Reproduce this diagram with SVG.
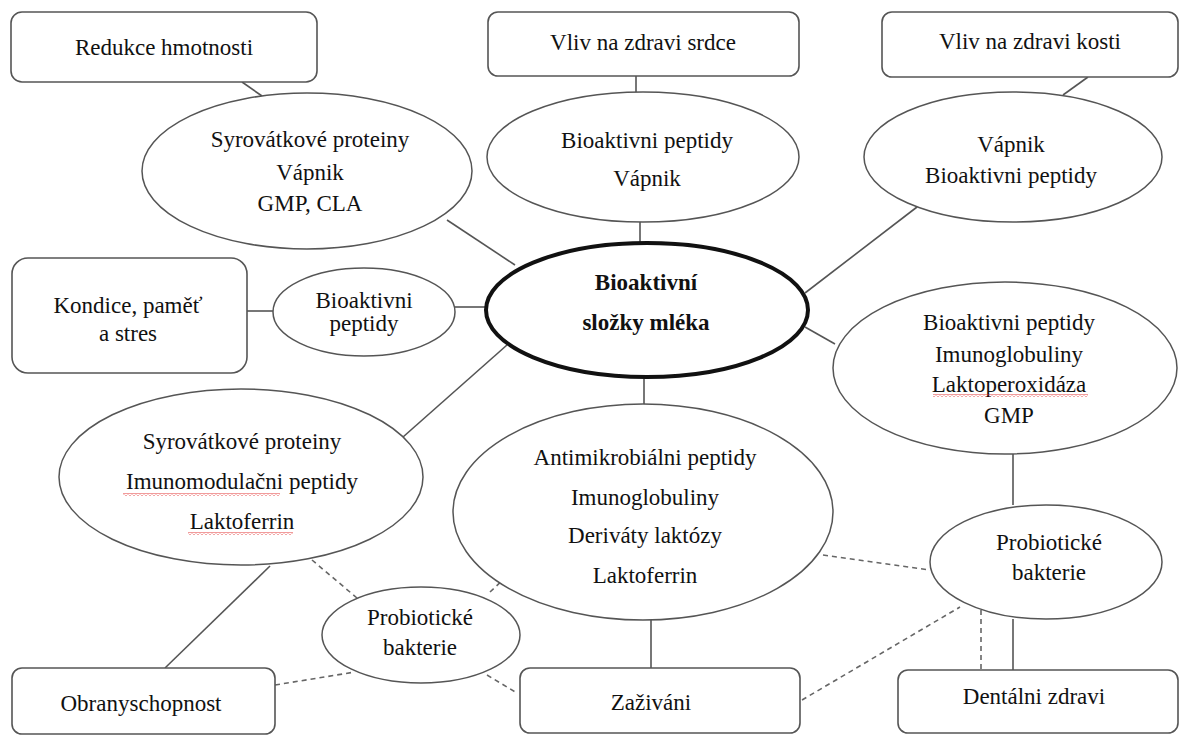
<svg xmlns="http://www.w3.org/2000/svg" width="1181" height="736" viewBox="0 0 1181 736">
<style>
.box{fill:#fff;stroke:#555;stroke-width:1.6}
.ell{fill:#fff;stroke:#555;stroke-width:1.5}
.main{fill:#fff;stroke:#111;stroke-width:4}
.ln{stroke:#555;stroke-width:1.6;fill:none}
.ds{stroke:#666;stroke-width:1.6;fill:none;stroke-dasharray:5 4}
text{font-family:"Liberation Serif","Times New Roman",serif;font-size:23px;fill:#111;text-anchor:middle}
.b{font-weight:bold}
</style>
<defs>
<pattern id="sq" width="4" height="3" patternUnits="userSpaceOnUse">
<path d="M0,2.5 L2,0.5 L4,2.5" stroke="#e02020" stroke-width="0.9" fill="none"/>
</pattern>
</defs>
<rect width="1181" height="736" fill="#fff"/>
<g id="connectors">
<line class="ln" x1="242" y1="82" x2="262" y2="96"/>
<line class="ln" x1="636" y1="76" x2="636" y2="93"/>
<line class="ln" x1="1088" y1="77" x2="1063" y2="95"/>
<line class="ln" x1="447" y1="220" x2="515" y2="265"/>
<line class="ln" x1="640" y1="222" x2="640" y2="243"/>
<line class="ln" x1="917" y1="207" x2="805" y2="293"/>
<line class="ln" x1="247" y1="311" x2="273" y2="311"/>
<line class="ln" x1="455" y1="307" x2="486" y2="307"/>
<line class="ln" x1="805" y1="327" x2="835" y2="344"/>
<line class="ln" x1="403" y1="437" x2="507" y2="345"/>
<line class="ln" x1="644" y1="377" x2="644" y2="405"/>
<line class="ln" x1="1013" y1="454" x2="1013" y2="505"/>
<line class="ln" x1="270" y1="566" x2="165" y2="668"/>
<line class="ln" x1="651" y1="620" x2="651" y2="668"/>
<line class="ln" x1="1013" y1="619" x2="1013" y2="670"/>
<line class="ds" x1="312" y1="560" x2="357" y2="598"/>
<line class="ds" x1="275" y1="685" x2="355" y2="672"/>
<line class="ds" x1="490" y1="592" x2="505" y2="578"/>
<line class="ds" x1="487" y1="675" x2="517" y2="693"/>
<line class="ds" x1="823" y1="555" x2="930" y2="570"/>
<line class="ds" x1="802" y1="700" x2="960" y2="607"/>
<line class="ds" x1="981" y1="610" x2="981" y2="670"/>
</g>
<g id="box-redukce">
<rect class="box" x="11" y="12" width="306" height="70" rx="11"/>
<text x="164" y="55">Redukce hmotnosti</text>
</g>
<g id="box-srdce">
<rect class="box" x="488" y="12" width="311" height="64" rx="10"/>
<text x="643" y="50">Vliv na zdravi srdce</text>
</g>
<g id="box-kosti">
<rect class="box" x="882" y="12" width="296" height="65" rx="10"/>
<text x="1030" y="49">Vliv na zdravi kosti</text>
</g>
<g id="box-kondice">
<rect class="box" x="12" y="258" width="235" height="115" rx="16"/>
<text x="128" y="313">Kondice, paměť</text>
<text x="128" y="341">a stres</text>
</g>
<g id="box-obrany">
<rect class="box" x="12" y="668" width="263" height="66" rx="10"/>
<text x="141" y="711">Obranyschopnost</text>
</g>
<g id="box-zazivani">
<rect class="box" x="520" y="668" width="280" height="65" rx="10"/>
<text x="651" y="710">Zaživáni</text>
</g>
<g id="box-dental">
<rect class="box" x="898" y="670" width="280" height="63" rx="10"/>
<text x="1034" y="704">Dentálni zdravi</text>
</g>
<g id="ell-redukce">
<ellipse class="ell" cx="307" cy="171" rx="165" ry="78"/>
<text x="310" y="147">Syrovátkové proteiny</text>
<text x="310" y="180">Vápnik</text>
<text x="310" y="211">GMP, CLA</text>
</g>
<g id="ell-srdce">
<ellipse class="ell" cx="643" cy="157" rx="156" ry="65"/>
<text x="647" y="148">Bioaktivni peptidy</text>
<text x="647" y="186">Vápnik</text>
</g>
<g id="ell-kosti">
<ellipse class="ell" cx="1013" cy="157" rx="149" ry="65"/>
<text x="1011" y="152">Vápnik</text>
<text x="1011" y="183">Bioaktivni peptidy</text>
</g>
<g id="ell-kondice">
<ellipse class="ell" cx="364" cy="312" rx="91" ry="44"/>
<text x="364" y="308">Bioaktivni</text>
<text x="364" y="331">peptidy</text>
</g>
<g id="center">
<ellipse class="main" cx="647" cy="310" rx="161" ry="67"/>
<text class="b" x="646" y="290">Bioaktivní</text>
<text class="b" x="646" y="330">složky mléka</text>
</g>
<g id="ell-imun">
<ellipse class="ell" cx="1005" cy="368" rx="172" ry="86"/>
<text x="1009" y="330">Bioaktivni peptidy</text>
<text x="1009" y="362">Imunoglobuliny</text>
<text x="1009" y="392">Laktoperoxidáza</text>
<rect x="933" y="394" width="155" height="3" fill="url(#sq)"/>
<text x="1009" y="423">GMP</text>
</g>
<g id="ell-obrany">
<ellipse class="ell" cx="241" cy="477" rx="182" ry="88"/>
<text x="242" y="449">Syrovátkové proteiny</text>
<text x="242" y="489">Imunomodulačni peptidy</text>
<rect x="123" y="493" width="157" height="3" fill="url(#sq)"/>
<text x="242" y="529">Laktoferrin</text>
<rect x="188" y="532" width="105" height="3" fill="url(#sq)"/>
</g>
<g id="ell-zazivani">
<ellipse class="ell" cx="643" cy="512" rx="190" ry="108"/>
<text x="645" y="465">Antimikrobiálni peptidy</text>
<text x="645" y="505">Imunoglobuliny</text>
<text x="645" y="543">Deriváty laktózy</text>
<text x="645" y="583">Laktoferrin</text>
</g>
<g id="ell-probio-left">
<ellipse class="ell" cx="421" cy="635" rx="99" ry="48"/>
<text x="420" y="625">Probiotické</text>
<text x="420" y="655">bakterie</text>
</g>
<g id="ell-probio-right">
<ellipse class="ell" cx="1046" cy="562" rx="116" ry="57"/>
<text x="1049" y="550">Probiotické</text>
<text x="1049" y="580">bakterie</text>
</g>
</svg>
